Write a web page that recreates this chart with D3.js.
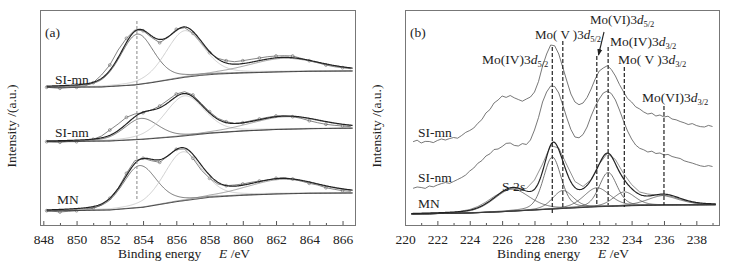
<!DOCTYPE html>
<html>
<head>
<meta charset="utf-8">
<script src="https://cdn.jsdelivr.net/npm/d3@7"></script>
<style>
  body { margin: 0; background: #fff; }
  svg text { font-family: "Liberation Serif", "Times New Roman", serif; fill: #222; }
  .frame { fill: none; stroke: #777; stroke-width: 1; }
  .axis path { display: none; }
  .axis line { stroke: #555; }
</style>
</head>
<body>
<div id="chart"></div>
<script>
// ---------- panel (a): Ni 2p ----------
var ticksA = [848, 850, 852, 854, 856, 858, 860, 862, 864, 866];
var samplesA = ["SI-mn", "SI-nm", "MN"];
var energyA = [848.2, 848.5, 849, 849.5, 850, 850.5, 851, 851.5, 852, 852.5, 853, 853.5, 854, 854.5,
  855, 855.5, 856, 856.5, 857, 857.5, 858, 858.5, 859, 859.5, 860, 860.5, 861, 861.5, 862, 862.5,
  863, 863.5, 864, 864.5, 865, 865.5, 866, 866.5];
var rawA_SImn = [138.7, 138.3, 137.7, 138.3, 138.7, 140.0, 143.3, 151.0, 161.0, 176.0, 187.7, 196.0, 195.3, 188.7,
  183.3, 188.7, 196.7, 198.3, 192.7, 182.7, 173.3, 167.7, 165.3, 164.3, 165.3, 166.7, 168.0, 169.3, 170.0, 170.3,
  170.0, 167.7, 165.3, 163.3, 161.0, 159.3, 158.3, 157.3];
var rawA_SInm = [84.3, 84.0, 83.7, 84.3, 84.3, 85.3, 86.7, 90.0, 96.0, 102.0, 108.7, 112.0, 113.3, 116.0,
  120.0, 126.0, 132.0, 134.3, 131.0, 122.7, 114.3, 107.7, 104.3, 102.7, 103.3, 105.3, 107.0, 108.7, 110.0, 110.3,
  109.3, 107.7, 105.3, 103.3, 101.7, 100.7, 100.0, 99.3];
var rawA_MN = [15.3, 15.0, 14.0, 14.7, 15.3, 16.0, 17.7, 21.0, 27.7, 37.7, 52.7, 65.3, 67.7, 65.3,
  63.7, 70.0, 76.7, 77.0, 67.7, 56.0, 47.7, 42.0, 40.3, 41.0, 42.0, 43.7, 45.0, 46.0, 47.7, 48.3,
  47.0, 45.0, 42.7, 41.0, 38.3, 36.7, 35.3, 34.7];
// Shirley backgrounds [E, intensity]
var bgA_SImn = [[848.2, 138.7], [851.5, 139.0], [852.5, 140.0], [853.5, 141.0], [854.5, 143.3], [855.5, 146.0],
  [856.5, 148.7], [857.5, 150.7], [858.5, 152.0], [860, 153.0], [862, 154.0], [864, 154.7], [866.5, 155.0]];
var bgA_SInm = [[848.2, 84.3], [852, 85.0], [854, 86.7], [856, 89.3], [858, 92.7], [860, 95.0], [862, 96.5],
  [864, 97.3], [866.5, 97.8]];
var bgA_MN = [[848.2, 15.0], [852, 16.0], [854, 18.7], [856, 24.3], [858, 28.7], [860, 30.7], [862, 32.0],
  [864, 32.7], [866.5, 33.0]];
// fitted components: centre (eV), height, FWHM (eV)
var peaksA_SImn = [[853.65, 50.5, 2.4], [856.5, 46.6, 2.7], [862.5, 13.5, 5.0]];
var peaksA_SInm = [[853.9, 21, 2.4], [856.5, 40, 2.8], [862.6, 12.5, 5.0]];
var peaksA_MN = [[853.8, 42, 2.4], [856.4, 49, 2.7], [862.4, 14.5, 5.0]];
var dashA = 853.63;

// ---------- panel (b): Mo 3d ----------
var ticksB = [220, 222, 224, 226, 228, 230, 232, 234, 236, 238];
var energyB = [220.5, 220.75, 221, 221.25, 221.5, 221.75, 222, 222.25, 222.5, 222.75, 223, 223.25, 223.5, 223.75,
  224, 224.25, 224.5, 224.75, 225, 225.25, 225.5, 225.75, 226, 226.25, 226.5, 226.75, 227, 227.25, 227.5, 227.75,
  228, 228.25, 228.5, 228.75, 229, 229.25, 229.5, 229.75, 230, 230.25, 230.5, 230.75, 231, 231.25, 231.5, 231.75,
  232, 232.25, 232.5, 232.75, 233, 233.25, 233.5, 233.75, 234, 234.25, 234.5, 234.75, 235, 235.25, 235.5, 235.75,
  236, 236.25, 236.5, 236.75, 237, 237.25, 237.5, 237.75, 238, 238.25, 238.5, 238.75, 239];
var rawB_SImn = [84.3, 85.8, 83.0, 84.6, 84.5, 83.4, 85.5, 87.0, 86.0, 87.4, 88.5, 87.8, 90.5, 93.6,
  95.5, 98.0, 102.7, 106.4, 113.0, 116.5, 123.0, 126.0, 130.0, 128.6, 130.5, 128.2, 126.5, 124.8, 127.0, 129.0,
  134.0, 144.5, 160.0, 172.0, 181.0, 180.2, 172.0, 158.5, 145.0, 132.0, 124.0, 121.3, 123.0, 128.5, 137.0, 147.0,
  155.0, 158.0, 160.3, 156.5, 150.0, 141.5, 134.3, 127.5, 124.0, 119.2, 117.0, 114.0, 112.0, 112.8, 110.0, 111.0,
  109.0, 109.8, 107.0, 106.2, 104.5, 103.2, 101.5, 102.4, 100.5, 99.4, 99.0, 100.6, 99.5];
var rawB_SInm = [37.7, 39.0, 38.5, 37.6, 40.0, 39.2, 41.0, 42.4, 43.5, 42.6, 44.5, 46.5, 48.5, 51.0,
  55.0, 58.0, 62.7, 65.4, 70.0, 72.2, 76.5, 77.0, 79.5, 82.6, 83.0, 80.6, 80.0, 82.4, 81.5, 86.0,
  96.0, 108.5, 124.0, 134.0, 140.0, 139.5, 133.0, 121.0, 108.0, 96.5, 89.0, 88.2, 91.5, 99.0, 110.0, 119.5,
  127.0, 133.0, 135.0, 132.4, 126.0, 116.0, 105.0, 95.0, 87.0, 81.0, 77.7, 76.2, 74.0, 74.8, 72.5, 73.0,
  71.0, 71.6, 69.5, 68.4, 67.5, 65.2, 64.0, 62.9, 61.5, 60.2, 59.5, 60.4, 59.5];
var energyB_MN = [220.5, 221, 221.5, 222, 222.5, 223, 223.5, 224, 224.5, 225, 225.5, 226, 226.5, 227, 227.5,
  228, 228.5, 229, 229.5, 230, 230.5, 231, 231.5, 232, 232.5, 233, 233.5, 234, 234.5, 235, 235.5, 236,
  236.5, 237, 237.5, 238, 238.5, 239];
var rawB_MN = [11.5, 12.0, 11.5, 12.5, 13.0, 13.5, 15.0, 16.5, 19.5, 24.0, 29.5, 34.0, 37.5, 37.0, 37.5,
  46.0, 62.0, 80.5, 78.0, 61.0, 44.5, 39.5, 46.5, 62.0, 72.5, 66.5, 52.5, 41.5, 34.0, 32.0, 31.0,
  30.5, 28.5, 26.0, 24.0, 22.5, 21.5, 21.5];
var bgB_MN = [[220.4, 12.0], [224, 13.0], [226, 14.3], [228, 16.0], [230, 17.7], [232, 19.3], [234, 20.3],
  [236, 21.0], [239.2, 21.3]];
var peakNamesB = ["S 2s", "Mo(IV)3d5/2", "Mo(V)3d5/2", "Mo(VI)3d5/2", "Mo(IV)3d3/2", "Mo(V)3d3/2", "Mo(VI)3d3/2"];
var peaksB_MN = [[226.6, 22, 2.6], [229.1, 52, 1.3], [229.75, 18, 1.5], [231.85, 19, 1.9],
  [232.55, 34, 1.3], [233.55, 14, 1.6], [236.0, 9.5, 2.4]];

var W = 730, H = 269;
var FONT = "Liberation Serif";
var svg = d3.select("#chart").append("svg").attr("width", W).attr("height", H);

function pv(E, p) {
  var x = (E - p[0]) / p[2], eta = 0.3;
  return p[1] * (eta / (1 + 4 * x * x) + (1 - eta) * Math.exp(-4 * Math.LN2 * x * x));
}

function panel(o) {
  var x = d3.scaleLinear().domain(o.domain).range([o.left, o.right]);
  var y = d3.scaleLinear().domain([0, 216]).range([226, 10]);
  var g = svg.append("g");

  g.append("g").attr("class", "axis")
    .attr("transform", "translate(0,225.5)")
    .call(d3.axisBottom(x).tickValues(o.ticks).tickSizeInner(-4.5).tickSizeOuter(0).tickPadding(9).tickFormat(d3.format("d")))
    .attr("font-family", FONT).attr("font-size", 13.5);
  // minor ticks
  g.append("g").attr("class", "axis")
    .attr("transform", "translate(0,225.5)")
    .call(d3.axisBottom(x).tickValues(o.ticks.map(function (t) { return t + 1; }).filter(function (t) { return t < o.domain[1]; }))
      .tickSizeInner(-2.5).tickSizeOuter(0).tickFormat(""));

  var line = d3.line().x(function (d) { return x(d[0]); }).y(function (d) { return y(d[1]); });
  var grid = d3.range(o.span[0], o.span[1] + 0.001, 0.05);

  o.series.forEach(function (s) {
    var raw = s.energy.map(function (e, i) { return [e, s.raw[i]]; });
    g.append("path").datum(raw).attr("d", line)
      .attr("fill", "none").attr("stroke", s.rawColor).attr("stroke-width", 0.8);
    if (s.markers) {
      g.selectAll(null).data(raw.filter(function (d, i) { return i % 2 === 0; })).enter().append("circle")
        .attr("cx", function (d) { return x(d[0]); }).attr("cy", function (d) { return y(d[1]); })
        .attr("r", 1.4).attr("fill", "none").attr("stroke", "#666").attr("stroke-width", 0.6);
    }
    if (!s.peaks) return;
    var bgFn = d3.scaleLinear().domain(s.bg.map(function (d) { return d[0]; })).range(s.bg.map(function (d) { return d[1]; })).clamp(true);
    s.peaks.forEach(function (p, i) {
      g.append("path").datum(grid.map(function (e) { return [e, bgFn(e) + pv(e, p)]; })).attr("d", line)
        .attr("fill", "none").attr("stroke", s.compColors[i % s.compColors.length]).attr("stroke-width", 0.8);
    });
    g.append("path").datum(grid.map(function (e) { return [e, bgFn(e)]; })).attr("d", line)
      .attr("fill", "none").attr("stroke", "#333").attr("stroke-width", 1);
    g.append("path").datum(grid.map(function (e) {
      return [e, bgFn(e) + d3.sum(s.peaks, function (p) { return pv(e, p); })];
    })).attr("d", line)
      .attr("fill", "none").attr("stroke", "#222").attr("stroke-width", 1.2);
  });

  o.labels.forEach(function (l) {
    g.append("text").attr("x", l[1]).attr("y", l[2]).attr("font-size", 13.5).text(l[0]);
  });

  g.append("rect").attr("class", "frame")
    .attr("x", o.left + 0.5).attr("y", 10.5).attr("width", o.right - o.left).attr("height", 215);

  g.append("text").attr("transform", "translate(" + o.ylabX + ",126) rotate(-90)")
    .attr("text-anchor", "middle").attr("font-size", 13.5).text("Intensity /(a.u.)");

  var t = g.append("text").attr("x", o.titleX).attr("y", 258).attr("font-size", 13.5);
  t.append("tspan").text("Binding energy");
  t.append("tspan").attr("x", o.titleX + 101).attr("font-style", "italic").text("E");
  t.append("tspan").text(" /eV");

  return { x: x, y: y, g: g };
}

// panel (a)
var pa = panel({
  domain: [847.8, 866.75], left: 40, right: 355, ticks: ticksA, span: [848.2, 866.6],
  ylabX: 16, titleX: 118,
  series: [
    { energy: energyA, raw: rawA_SImn, bg: bgA_SImn, peaks: peaksA_SImn, rawColor: "#666", markers: true, compColors: ["#555", "#c4c4c4", "#888"] },
    { energy: energyA, raw: rawA_SInm, bg: bgA_SInm, peaks: peaksA_SInm, rawColor: "#666", markers: true, compColors: ["#555", "#c4c4c4", "#888"] },
    { energy: energyA, raw: rawA_MN, bg: bgA_MN, peaks: peaksA_MN, rawColor: "#666", markers: true, compColors: ["#555", "#c4c4c4", "#888"] }
  ],
  labels: [["(a)", 45, 37], [samplesA[0], 55, 84], [samplesA[1], 55, 137], [samplesA[2], 57, 204]]
});
pa.g.append("line")
  .attr("x1", pa.x(dashA)).attr("x2", pa.x(dashA)).attr("y1", 21).attr("y2", 201)
  .attr("stroke", "#888").attr("stroke-width", 1).attr("stroke-dasharray", "3,2");

// panel (b)
var pb = panel({
  domain: [220, 239.4], left: 405, right: 719, ticks: ticksB, span: [220.4, 239.2],
  ylabX: 381, titleX: 497,
  series: [
    { energy: energyB, raw: rawB_SImn, rawColor: "#555" },
    { energy: energyB, raw: rawB_SInm, rawColor: "#555" },
    { energy: energyB_MN, raw: rawB_MN, bg: bgB_MN, peaks: peaksB_MN, rawColor: "#777", markers: false, compColors: ["#555"] }
  ],
  labels: [["(b)", 410, 37], [samplesA[0], 418, 137], [samplesA[1], 418, 182], [samplesA[2], 418, 208]]
});

// peak annotations in (b): [peak index, line top y, line bottom y, label x, label baseline, font size]
var annB = [[1, 47, 214, 482, 64, 13.5], [2, 41, 207, 535, 39, 13], [3, 56, 205, 590, 24, 13],
  [4, 47, 205, 610, 46, 13.5], [5, 67, 207, 618, 64, 13.5], [6, 106, 205, 642, 102, 13.5]];
annB.forEach(function (a) {
  var e = peaksB_MN[a[0]][0];
  pb.g.append("line").attr("x1", pb.x(e)).attr("x2", pb.x(e)).attr("y1", a[1]).attr("y2", a[2])
    .attr("stroke", "#222").attr("stroke-width", 1.2).attr("stroke-dasharray", "4,2");
  var name = peakNamesB[a[0]];
  var m = name.match(/^Mo\((\w+)\)3d(\d\/\d)$/);
  var ox = m[1] === "V" ? "( V )" : "(" + m[1] + ")";
  var t = pb.g.append("text").attr("x", a[3]).attr("y", a[4]).attr("font-size", a[5]);
  t.append("tspan").text("Mo" + ox + "3");
  t.append("tspan").attr("font-style", "italic").text("d");
  t.append("tspan").attr("font-size", 8.5).attr("dy", 3).text(m[2]);
});
var s2 = pb.g.append("text").attr("x", 502).attr("y", 191).attr("font-size", 13.5);
s2.append("tspan").text("S 2");
s2.append("tspan").attr("font-style", "italic").text("s");

// arrow to Mo(VI)3d5/2
svg.append("defs").append("marker").attr("id", "ah").attr("viewBox", "0 0 10 10")
  .attr("refX", 9).attr("refY", 5).attr("markerWidth", 6).attr("markerHeight", 6).attr("orient", "auto")
  .append("path").attr("d", "M0,1 L10,5 L0,9 Z").attr("fill", "#222");
pb.g.append("line").attr("x1", 604).attr("y1", 32).attr("x2", 598.5).attr("y2", 55)
  .attr("stroke", "#222").attr("stroke-width", 1.1).attr("marker-end", "url(#ah)");
</script>
</body>
</html>
